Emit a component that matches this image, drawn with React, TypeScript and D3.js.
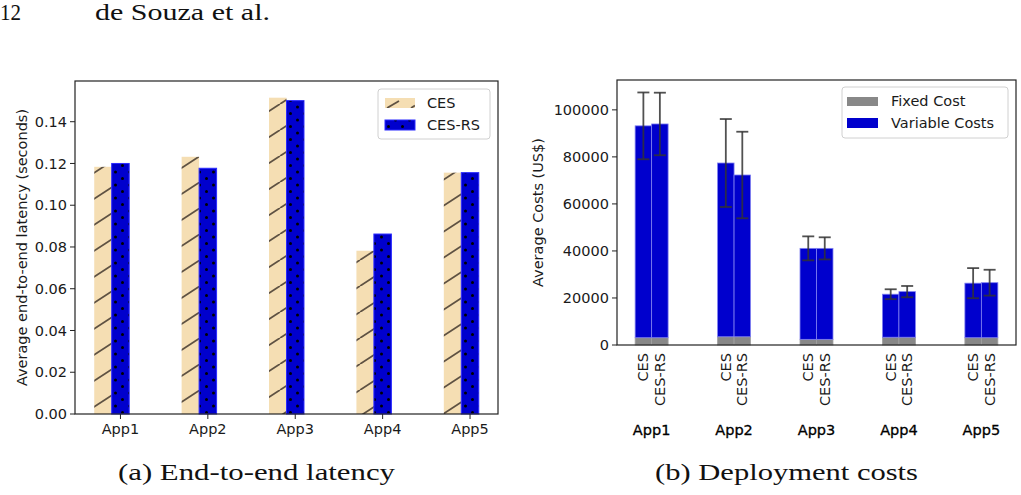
import React from 'react'
import * as d3 from 'd3'

// Per-application measurements
const apps = ['App1', 'App2', 'App3', 'App4', 'App5']
const strategies = ['CES', 'CES-RS']

// end-to-end latency (seconds)
const latencyCES = [0.1184, 0.1232, 0.1515, 0.0782, 0.1156]
const latencyCESRS = [0.1200, 0.1177, 0.1501, 0.0862, 0.1156]

// deployment costs (US$): fixed part, variable part, std of the total
const fixedCES = [3100, 3500, 2400, 3300, 3100]
const fixedCESRS = [3100, 3500, 2400, 3300, 3100]
const variableCES = [90100, 73900, 38700, 18300, 23200]
const variableCESRS = [90900, 68800, 38700, 19400, 23400]
const errCES = [14200, 18700, 5100, 2100, 6400]
const errCESRS = [13300, 18400, 4700, 2400, 5500]

const latencyTicks = [0, 0.02, 0.04, 0.06, 0.08, 0.1, 0.12, 0.14]
const costTicks = [0, 20000, 40000, 60000, 80000, 100000]

const SANS = 'DejaVu Sans, sans-serif'
const SERIF = 'Liberation Serif, serif'
const FS = 14.5
const TXT = '#1a1a1a'
const BLUE = '#0000cd'
const WHEAT = '#f5deb3'

function Latency () {
  const left = 75, right = 498, top = 81, bottom = 414
  const x = d3.scaleLinear().domain([-0.52, 4.32]).range([left, right])
  const y = d3.scaleLinear().domain([0, 0.1595]).range([bottom, top])
  const w = x(0.2) - x(0)
  const series = [
    { name: strategies[0], values: latencyCES, offset: -0.2, fill: 'url(#hatchSlash)' },
    { name: strategies[1], values: latencyCESRS, offset: 0, fill: 'url(#hatchDots)' }
  ]
  return (
    <g>
      {series.map(s => s.values.map((v, i) => (
        <rect key={s.name + i} x={x(i + s.offset) - w / 2} y={y(v)} width={w} height={y(0) - y(v)}
          fill={s.fill} stroke={s.name === 'CES' ? 'none' : '#2a2aff'} strokeWidth={1} />
      )))}
      <rect x={left} y={top} width={right - left} height={bottom - top} fill='none' stroke='#222' strokeWidth={1.2} />
      {latencyTicks.map(t => (
        <g key={t}>
          <line x1={left - 5} x2={left} y1={y(t)} y2={y(t)} stroke='#222' />
          <text x={left - 8} y={y(t)} dy='0.35em' textAnchor='end' fontSize={FS} fontFamily={SANS} fill={TXT}>{d3.format('.2f')(t)}</text>
        </g>
      ))}
      {apps.map((a, i) => (
        <g key={a}>
          <line x1={x(i)} x2={x(i)} y1={bottom} y2={bottom + 5} stroke='#222' />
          <text x={x(i)} y={bottom + 9} dy='0.76em' textAnchor='middle' fontSize={FS} fontFamily={SANS} fill={TXT}>{a}</text>
        </g>
      ))}
      <text transform={`translate(22,${(top + bottom) / 2}) rotate(-90)`} textAnchor='middle' dy='0.35em'
        fontSize={FS} fontFamily={SANS} fill={TXT}>Average end-to-end latency (seconds)</text>
      <g>
        <rect x={378} y={89} width={112} height={50} rx={3} fill='white' fillOpacity={0.8} stroke='#d0d0d0' />
        <rect x={385} y={98} width={30} height={10} fill='url(#hatchSlashLegend)' />
        <rect x={385} y={120} width={30} height={10} fill='url(#hatchDots)' stroke='#2a2aff' />
        <text x={427} y={103} dy='0.35em' fontSize={FS} fontFamily={SANS} fill={TXT}>CES</text>
        <text x={427} y={125} dy='0.35em' fontSize={FS} fontFamily={SANS} fill={TXT}>CES-RS</text>
      </g>
    </g>
  )
}

function Costs () {
  const left = 617, right = 1016, top = 80, bottom = 345
  const x = d3.scaleLinear().domain([-0.42, 4.42]).range([left, right])
  const y = d3.scaleLinear().domain([0, 112700]).range([bottom, top])
  const w = x(0.2) - x(0)
  const series = [
    { name: strategies[0], fixed: fixedCES, variable: variableCES, err: errCES, offset: -0.1 },
    { name: strategies[1], fixed: fixedCESRS, variable: variableCESRS, err: errCESRS, offset: 0.1 }
  ]
  return (
    <g>
      {series.map(s => apps.map((a, i) => {
        const cx = x(i + s.offset)
        const f = s.fixed[i]
        const total = f + s.variable[i]
        return (
          <g key={s.name + a}>
            <rect x={cx - w / 2} y={y(f)} width={w} height={y(0) - y(f)} fill='#888' stroke='#a0a0a0' strokeWidth={0.8} />
            <rect x={cx - w / 2} y={y(total)} width={w} height={y(f) - y(total)} fill={BLUE} stroke='#8080f0' strokeWidth={0.8} />
          </g>
        )
      }))}
      {series.map(s => apps.map((a, i) => {
        const cx = x(i + s.offset)
        const total = s.fixed[i] + s.variable[i]
        const hi = y(total + s.err[i]), lo = y(total - s.err[i])
        return (
          <g key={'e' + s.name + a} stroke='#333' strokeOpacity={0.85} strokeWidth={1.8}>
            <line x1={cx} x2={cx} y1={hi} y2={lo} />
            <line x1={cx - 6} x2={cx + 6} y1={hi} y2={hi} />
            <line x1={cx - 6} x2={cx + 6} y1={lo} y2={lo} />
          </g>
        )
      }))}
      <rect x={left} y={top} width={right - left} height={bottom - top} fill='none' stroke='#222' strokeWidth={1.2} />
      {costTicks.map(t => (
        <g key={t}>
          <line x1={left - 5} x2={left} y1={y(t)} y2={y(t)} stroke='#222' />
          <text x={left - 8} y={y(t)} dy='0.35em' textAnchor='end' fontSize={FS} fontFamily={SANS} fill={TXT}>{t}</text>
        </g>
      ))}
      {series.map(s => apps.map((a, i) => (
        <text key={'l' + s.name + a} transform={`translate(${x(i + s.offset)},${bottom + 8}) rotate(-90)`}
          textAnchor='end' dy='0.35em' fontSize={FS} fontFamily={SANS} fill={TXT}>{s.name}</text>
      )))}
      {apps.map((a, i) => (
        <text key={a} x={x(i)} y={430} dy='0.35em' textAnchor='middle' fontSize={FS} fontFamily={SANS} fill='#000'
          stroke='#000' strokeWidth={0.3}>{a}</text>
      ))}
      <text transform={`translate(538,${(top + bottom) / 2}) rotate(-90)`} textAnchor='middle' dy='0.35em'
        fontSize={FS} fontFamily={SANS} fill={TXT}>Average Costs (US$)</text>
      <g>
        <rect x={842} y={87} width={166} height={51} rx={3} fill='white' fillOpacity={0.8} stroke='#d0d0d0' />
        <rect x={847} y={97} width={31} height={9} fill='#888' />
        <rect x={847} y={118} width={31} height={10} fill={BLUE} />
        <text x={891} y={101} dy='0.35em' fontSize={FS} fontFamily={SANS} fill={TXT}>Fixed Cost</text>
        <text x={891} y={123} dy='0.35em' fontSize={FS} fontFamily={SANS} fill={TXT}>Variable Costs</text>
      </g>
    </g>
  )
}

export default function App () {
  return (
    <svg width={1021} height={495} style={{ position: 'absolute', left: 0, top: 0, background: 'white' }}>
      <defs>
        <pattern id='hatchSlash' patternUnits='userSpaceOnUse' width={40} height={26}>
          <rect width={40} height={26} fill={WHEAT} />
          <g stroke='#5e5142' strokeWidth={1.8}>
            <line x1={0} y1={26} x2={40} y2={0} />
            <line x1={-40} y1={26} x2={0} y2={0} />
            <line x1={40} y1={26} x2={80} y2={0} />
          </g>
        </pattern>
        <pattern id='hatchSlashLegend' patternUnits='userSpaceOnUse' x={385} y={98} width={30} height={10}>
          <rect width={30} height={10} fill={WHEAT} />
          <g stroke='#5e5142' strokeWidth={1.8}>
            <line x1={2} y1={10} x2={14} y2={3} />
            <line x1={26} y1={10} x2={30} y2={7.5} />
          </g>
        </pattern>
        <pattern id='hatchDots' patternUnits='userSpaceOnUse' width={14} height={13}>
          <rect width={14} height={13} fill={BLUE} />
          <circle cx={3.5} cy={3} r={1.5} fill='#000' />
          <circle cx={10.5} cy={9.5} r={1.5} fill='#000' />
        </pattern>
      </defs>
      <text x={0} y={20} fontSize={24} fontFamily={SERIF} fill='#111' textLength={21} lengthAdjust='spacingAndGlyphs'>12</text>
      <text x={95} y={20} fontSize={24} fontFamily={SERIF} fill='#111' textLength={175} lengthAdjust='spacingAndGlyphs'>de Souza et al.</text>
      <Latency />
      <Costs />
      <text x={118} y={480} fontSize={24} fontFamily={SERIF} fill='#111' textLength={277} lengthAdjust='spacingAndGlyphs'>(a) End-to-end latency</text>
      <text x={655} y={480} fontSize={24} fontFamily={SERIF} fill='#111' textLength={263} lengthAdjust='spacingAndGlyphs'>(b) Deployment costs</text>
    </svg>
  )
}
